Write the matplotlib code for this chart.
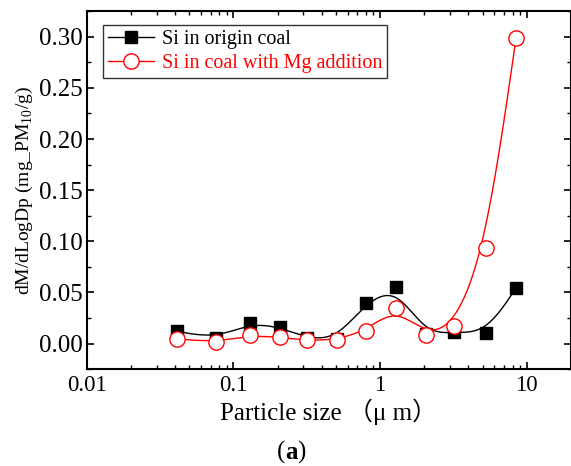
import matplotlib
matplotlib.use('Agg')
import matplotlib.pyplot as plt
import numpy as np

# particle size bins (um) and dM/dLogDp values
size_um = [0.041, 0.076, 0.13, 0.207, 0.319, 0.505, 0.80, 1.28, 2.05, 3.2, 5.24, 8.45]
si_origin = [0.012, 0.005, 0.020, 0.016, 0.005, 0.0045, 0.040, 0.055, 0.009, 0.0115, 0.0098, 0.0544]
si_mg = [0.0046, 0.0013, 0.008, 0.006, 0.003, 0.0036, 0.0127, 0.035, 0.0088, 0.017, 0.093, 0.299]

plt.rcParams['font.family'] = ['Liberation Serif', 'Noto Sans CJK SC']
plt.rcParams['mathtext.fontset'] = 'custom'
plt.rcParams['mathtext.rm'] = 'Liberation Serif'


def bspline(x, y, n=60):
  """Clamped uniform cubic B-spline through the points as control points
  (x in log space), like Origin's B-spline connection."""
  px = np.log10(np.asarray(x))
  py = np.asarray(y)
  px = np.concatenate([[px[0]] * 2, px, [px[-1]] * 2])
  py = np.concatenate([[py[0]] * 2, py, [py[-1]] * 2])
  xs, ys = [], []
  for i in range(len(px) - 3):
    t = np.linspace(0, 1, n)
    b0 = (1 - t) ** 3 / 6
    b1 = (3 * t ** 3 - 6 * t ** 2 + 4) / 6
    b2 = (-3 * t ** 3 + 3 * t ** 2 + 3 * t + 1) / 6
    b3 = t ** 3 / 6
    xs.append(b0 * px[i] + b1 * px[i + 1] + b2 * px[i + 2] + b3 * px[i + 3])
    ys.append(b0 * py[i] + b1 * py[i + 1] + b2 * py[i + 2] + b3 * py[i + 3])
  return 10 ** np.concatenate(xs), np.concatenate(ys)


fig = plt.figure(figsize=(5.71, 4.66), dpi=100)
ax = fig.add_axes([0.152, 0.208, 0.848, 0.768])

xs, ys = bspline(size_um, si_origin)
ax.plot(xs, ys, color='black', lw=1)
ax.plot(size_um, si_origin, 's', color='black', ms=9, ls='none')
xs, ys = bspline(size_um, si_mg)
ax.plot(xs, ys, color='red', lw=1)
ax.plot(size_um, si_mg, 'o', mfc='white', mec='red', mew=1, ms=11, ls='none')

# legend handles
ax.plot([], [], '-s', color='black', ms=9, lw=1, label='Si in origin coal')
ax.plot([], [], '-o', color='red', mfc='white', mec='red', ms=11, lw=1,
        label='Si in coal with Mg addition')
leg = ax.legend(loc='upper left', bbox_to_anchor=(0.012, 0.99), fontsize=14.5,
                frameon=True, fancybox=False, edgecolor='black',
                handlelength=2.3, borderpad=0.25, labelspacing=0.25, handletextpad=0.4)
leg.get_frame().set_linewidth(1)
for t, c in zip(leg.get_texts(), ['black', 'red']):
  t.set_color(c)

ax.set_xscale('log')
ax.set_xlim(0.01, 20)
ax.set_ylim(-0.025, 0.325)
ax.set_yticks(np.arange(0, 0.31, 0.05))
ax.set_yticks(np.arange(-0.025, 0.326, 0.025), minor=True)
ax.set_xticks([0.01, 0.1, 1, 10])
ax.set_xticklabels(['0.01', '0.1', '1', '10'])
ax.tick_params(which='both', direction='in', top=True, right=True)
ax.tick_params(axis='y', labelsize=18, pad=3)
ax.tick_params(axis='x', labelsize=16.5, pad=4)
ax.tick_params(which='major', length=5, width=1.2)
ax.tick_params(which='minor', length=3, width=1)
for s in ax.spines.values():
  s.set_linewidth(1.5)

ax.set_ylabel('dM/dLogDp (mg_PM$_{10}$/g)', fontsize=14, labelpad=3)
ax.set_xlabel('Particle size （μ m）', fontsize=18, labelpad=2)
fig.text(0.5, 0.03, '(', fontsize=18, ha='right', va='center')
fig.text(0.5, 0.03, 'a', fontsize=18, ha='left', va='center', fontweight='bold')
fig.text(0.5 + 0.02, 0.03, ')', fontsize=18, ha='left', va='center')

plt.savefig('out.png', dpi=100)
